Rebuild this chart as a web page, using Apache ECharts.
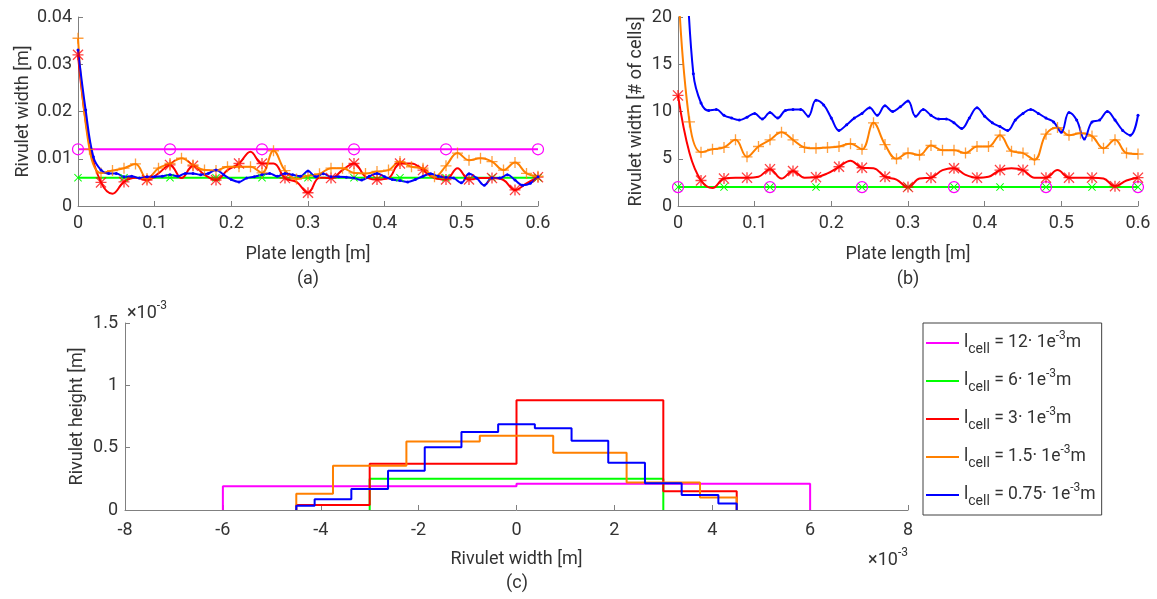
<!DOCTYPE html>
<html>
<head>
<meta charset="utf-8">
<title>Rivulet width and height</title>
<script src="https://cdn.jsdelivr.net/npm/echarts@6/dist/echarts.min.js"></script>
<style>
  html, body { margin: 0; padding: 0; background: #fff; }
  #chart { width: 1157px; height: 599px; }
</style>
</head>
<body>
<div id="chart"></div>
<script>
// spacing of the samples along the plate (m)
const stepMag = 0.12, stepGreen = 0.06, stepRed = 0.015, stepOrange = 0.015, stepBlue = 0.01;

// (a) rivulet width [m]
const magA = [0.012, 0.012, 0.012, 0.012, 0.012, 0.012];
const greenA = [0.006, 0.006, 0.006, 0.006, 0.006, 0.006, 0.006, 0.006, 0.006, 0.006, 0.006];
const redA = [0.032, 0.013, 0.005, 0.0026, 0.0051, 0.006, 0.0055, 0.0069, 0.0087, 0.0059, 0.0085,
  0.0066, 0.0055, 0.0076, 0.009, 0.0115, 0.009, 0.009, 0.0059, 0.0051, 0.0028, 0.006, 0.0059,
  0.0076, 0.009, 0.0062, 0.0056, 0.0059, 0.009, 0.009, 0.0076, 0.0059, 0.0056, 0.008, 0.0056,
  0.0059, 0.0059, 0.0055, 0.0034, 0.0048, 0.0061];
const orangeA = [0.0355, 0.012, 0.007, 0.0075, 0.008, 0.0089, 0.0058, 0.008, 0.009, 0.0101, 0.0087,
  0.0076, 0.0075, 0.0083, 0.0083, 0.0083, 0.007, 0.0117, 0.0075, 0.0057, 0.0064, 0.0068, 0.008,
  0.008, 0.007, 0.0069, 0.0073, 0.0076, 0.0094, 0.0083, 0.008, 0.0062, 0.0085, 0.0112, 0.0097,
  0.0101, 0.0094, 0.0076, 0.0092, 0.0069, 0.0063];
const blueA = [0.033, 0.0203, 0.0104, 0.0076, 0.0069, 0.0069, 0.0062, 0.0063, 0.0059, 0.0062,
  0.0062, 0.0063, 0.0066, 0.0063, 0.0069, 0.0069, 0.0066, 0.0069, 0.0076, 0.0066,
  0.0056, 0.0051, 0.0059, 0.0062, 0.0066, 0.0069, 0.0063, 0.0069, 0.0066, 0.0063,
  0.0074, 0.0062, 0.0068, 0.0062, 0.0062, 0.0061, 0.0059, 0.0055, 0.0063, 0.0069,
  0.0062, 0.0056, 0.0054, 0.0051, 0.0056, 0.0063, 0.0068, 0.0063, 0.0061, 0.0059,
  0.0049, 0.0068, 0.0059, 0.0044, 0.0059, 0.0059, 0.0066, 0.0055, 0.0044, 0.0048, 0.0062];

// (b) rivulet width [# of cells]
const magB = [2, 2, 2, 2, 2, 2];
const greenB = [2, 2, 2, 2, 2, 2, 2, 2, 2, 2, 2];
const redB = [11.7, 5.6, 2.7, 1.9, 2.9, 3.0, 3.0, 3.1, 3.9, 2.9, 3.7, 3.0, 3.05, 3.45, 4.15, 4.8,
  4.05, 4.0, 3.1, 2.8, 2.0, 2.9, 3.0, 3.8, 4.0, 3.3, 3.0, 3.1, 3.8, 4.0, 3.8, 3.0, 3.0, 3.8, 3.0,
  3.0, 3.0, 2.9, 2.1, 2.7, 3.0];
const orangeB = [23.7, 8.9, 5.7, 6.0, 6.2, 7.0, 5.2, 6.3, 7.0, 7.8, 7.0, 6.2, 6.1, 6.2, 6.3, 6.6,
  6.0, 8.8, 6.5, 5.0, 5.6, 5.4, 6.4, 5.9, 5.9, 5.6, 6.3, 6.3, 7.5, 5.8, 5.6, 4.9, 7.6, 8.3, 7.5,
  7.7, 7.4, 6.1, 7.0, 5.6, 5.5];
const blueB = [44, 27, 14, 10.9, 10.1, 10.2, 9.6, 9.3, 9.1, 9.4,
  9.8, 9.2, 9.9, 9.3, 10.1, 10.2, 10.2, 9.5, 11.2, 10.7,
  9.3, 8.0, 8.6, 9.3, 9.8, 10.4, 9.6, 10.6, 10.0, 10.5,
  11.1, 9.5, 10.2, 9.6, 9.2, 9.2, 8.8, 8.2, 9.3, 10.4,
  9.5, 8.8, 8.4, 8.0, 9.1, 9.8, 10.2, 9.8, 9.3, 8.9,
  7.8, 9.9, 9.1, 7.1, 8.9, 9.1, 10.0, 9.1, 8.0, 7.5, 9.6];

// (c) cross-section profiles: cell edges and heights, both in 1e-3 m
const cellSizes = ['12', '6', '3', '1.5', '0.75'];
const magEdges = [-6, 0, 6];
const magH = [0.19, 0.21];
const greenEdges = [-3, 3];
const greenH = [0.25];
const redEdges = [-4.5, -3, 0, 3, 4.5];
const redH = [0.04, 0.37, 0.88, 0.15];
const orangeEdges = [-4.5, -3.75, -2.25, -0.75, 0.75, 2.25, 3.75, 4.5];
const orangeH = [0.13, 0.355, 0.55, 0.595, 0.46, 0.22, 0.10];
const blueEdges = [-4.5, -4.125, -3.375, -2.625, -1.875, -1.125, -0.375, 0.375, 1.125, 1.875, 2.625, 3.375, 4.125, 4.5];
const blueH = [0.035, 0.086, 0.168, 0.315, 0.503, 0.626, 0.687, 0.655, 0.556, 0.38, 0.214, 0.12, 0.053];

const colors = ['#ff00ff', '#00ff00', '#ff0000', '#ff8000', '#0000ff'];
const FONT = 'Roboto';
const TXT = '#333333';
const AXC = '#808080';

const PLUS = 'path://M4.4,0H5.6V10H4.4ZM0,4.4H10V5.6H0Z';
const CROSS = 'path://M0,0.85L0.85,0L5,4.15L9.15,0L10,0.85L5.85,5L10,9.15L9.15,10L5,5.85L0.85,10L0,9.15L4.15,5Z';
const STAR = 'path://M4.4,0H5.6V10H4.4ZM0,4.4H10V5.6H0ZM0,0.85L0.85,0L5,4.15L9.15,0L10,0.85L5.85,5L10,9.15L9.15,10L5,5.85L0.85,10L0,9.15L4.15,5Z';

function pts(step, vals) {
  return vals.map((v, i) => [+(i * step).toFixed(4), v]);
}
function stairs(edges, h) {
  const out = [[edges[0], 0]];
  h.forEach((v, i) => out.push([edges[i], v]));
  out.push([edges[edges.length - 1], 0]);
  return out;
}

function axisBase(extra) {
  return Object.assign({
    type: 'value',
    axisLine: { show: true, onZero: false, lineStyle: { color: AXC, width: 1 } },
    axisTick: { show: true, inside: true, length: 5, lineStyle: { color: AXC } },
    splitLine: { show: false },
    axisLabel: { color: TXT, fontSize: 18, fontFamily: FONT, margin: 8 },
    nameLocation: 'middle',
    nameMoveOverlap: false,
    nameTextStyle: { color: TXT, fontSize: 18, fontFamily: FONT }
  }, extra);
}

// the five plate-length series of one panel
function panelSeries(idx, mag, green, red, orange, blue) {
  const base = { type: 'line', xAxisIndex: idx, yAxisIndex: idx, silent: true, z: 2 };
  return [
    Object.assign({}, base, {
      name: 'p' + idx + 'mag', data: pts(stepMag, mag),
      lineStyle: { color: colors[0], width: 2 },
      symbol: 'circle', symbolSize: 11,
      itemStyle: { color: 'transparent', borderColor: colors[0], borderWidth: 1.2 }
    }),
    Object.assign({}, base, {
      name: 'p' + idx + 'green', data: pts(stepGreen, green),
      lineStyle: { color: colors[1], width: 2 },
      symbol: CROSS, symbolSize: 8, itemStyle: { color: colors[1] }
    }),
    Object.assign({}, base, {
      name: 'p' + idx + 'red', data: pts(stepRed, red), smooth: 0.4,
      lineStyle: { color: colors[2], width: 2 },
      symbol: STAR, symbolSize: (v, p) => (p.dataIndex % 2 === 0 ? 11 : 0),
      itemStyle: { color: colors[2], opacity: 0.75 }
    }),
    Object.assign({}, base, {
      name: 'p' + idx + 'orange', data: pts(stepOrange, orange), smooth: 0.4,
      lineStyle: { color: colors[3], width: 2 },
      symbol: PLUS, symbolSize: 11, itemStyle: { color: colors[3], opacity: 0.75 }
    }),
    Object.assign({}, base, {
      name: 'p' + idx + 'blue', data: pts(stepBlue, blue), smooth: 0.4,
      lineStyle: { color: colors[4], width: 2 },
      symbol: 'circle', symbolSize: 3, itemStyle: { color: colors[4] }
    })
  ];
}

const profiles = [[magEdges, magH], [greenEdges, greenH], [redEdges, redH], [orangeEdges, orangeH], [blueEdges, blueH]];
const profileSeries = profiles.map((p, i) => ({
  type: 'line', name: cellSizes[i], xAxisIndex: 2, yAxisIndex: 2,
  data: stairs(p[0], p[1]), step: 'end', symbol: 'none', silent: true,
  lineStyle: { color: colors[i], width: 2 }, itemStyle: { color: colors[i] }
}));

const chart = echarts.init(document.getElementById('chart'));
chart.setOption({
  animation: false,
  backgroundColor: '#ffffff',
  textStyle: { fontFamily: FONT },
  grid: [
    { left: 78, top: 17, width: 460, height: 189 },
    { left: 678, top: 17, width: 460, height: 189 },
    { left: 125, top: 323, width: 783, height: 187 }
  ],
  xAxis: [
    axisBase({ gridIndex: 0, min: 0, max: 0.6, interval: 0.1, name: 'Plate length [m]', nameGap: 39 }),
    axisBase({ gridIndex: 1, min: 0, max: 0.6, interval: 0.1, name: 'Plate length [m]', nameGap: 39 }),
    axisBase({ gridIndex: 2, min: -8, max: 8, interval: 2, name: 'Rivulet width [m]', nameGap: 40,
      axisLabel: { color: TXT, fontSize: 18, fontFamily: FONT, margin: 11 } })
  ],
  yAxis: [
    axisBase({ gridIndex: 0, min: 0, max: 0.04, interval: 0.01, name: 'Rivulet width [m]', nameGap: 46,
      axisLabel: { color: TXT, fontSize: 18, fontFamily: FONT, margin: 6 } }),
    axisBase({ gridIndex: 1, min: 0, max: 20, interval: 5, name: 'Rivulet width [# of cells]', nameGap: 33,
      axisLabel: { color: TXT, fontSize: 18, fontFamily: FONT, margin: 6 } }),
    axisBase({ gridIndex: 2, min: 0, max: 1.5, interval: 0.5, name: 'Rivulet height [m]', nameGap: 39,
      axisLabel: { color: TXT, fontSize: 18, fontFamily: FONT, margin: 7 } })
  ],
  legend: {
    orient: 'vertical', left: 923, top: 323,
    data: cellSizes, selectedMode: false,
    icon: 'path://M0,0H33V2H0Z',
    itemWidth: 33, itemHeight: 2, itemGap: 12,
    padding: [7, 6, 7, 3],
    borderColor: '#404040', borderWidth: 1, backgroundColor: '#ffffff',
    formatter: n => '{a|l}{b|cell}{a| = ' + n + '· 1e}{c|-3}{a|m}',
    textStyle: {
      color: TXT, fontFamily: FONT, fontSize: 17.5,
      rich: {
        a: { fontSize: 17.5, fontFamily: FONT, color: TXT, lineHeight: 26 },
        b: { fontSize: 14, fontFamily: FONT, color: TXT, lineHeight: 14, verticalAlign: 'bottom' },
        c: { fontSize: 12, fontFamily: FONT, color: TXT, lineHeight: 12, verticalAlign: 'top' }
      }
    }
  },
  graphic: [
    { type: 'text', x: 308, y: 279, style: { text: '(a)', fill: TXT, font: '18px Roboto', textAlign: 'center', textVerticalAlign: 'middle', align: 'center', verticalAlign: 'middle' } },
    { type: 'text', x: 908, y: 279, style: { text: '(b)', fill: TXT, font: '18px Roboto', textAlign: 'center', textVerticalAlign: 'middle', align: 'center', verticalAlign: 'middle' } },
    { type: 'text', x: 517, y: 583, style: { text: '(c)', fill: TXT, font: '18px Roboto', textAlign: 'center', textVerticalAlign: 'middle', align: 'center', verticalAlign: 'middle' } },
    { type: 'text', x: 127, y: 313, style: { text: '{n|×10}{s|-3}', fill: TXT, font: '18px Roboto', textAlign: 'left', textVerticalAlign: 'middle', align: 'left', verticalAlign: 'middle',
      rich: { n: { fontSize: 18, fontFamily: FONT, fill: TXT, color: TXT, lineHeight: 26 }, s: { fontSize: 12, fontFamily: FONT, fill: TXT, color: TXT, lineHeight: 12, verticalAlign: 'top' } } } },
    { type: 'text', x: 908, y: 560, style: { text: '{n|×10}{s|-3}', fill: TXT, font: '18px Roboto', textAlign: 'right', textVerticalAlign: 'middle', align: 'right', verticalAlign: 'middle',
      rich: { n: { fontSize: 18, fontFamily: FONT, fill: TXT, color: TXT, lineHeight: 26 }, s: { fontSize: 12, fontFamily: FONT, fill: TXT, color: TXT, lineHeight: 12, verticalAlign: 'top' } } } }
  ],
  series: [].concat(
    panelSeries(0, magA, greenA, redA, orangeA, blueA),
    panelSeries(1, magB, greenB, redB, orangeB, blueB),
    profileSeries
  )
});
</script>
</body>
</html>
